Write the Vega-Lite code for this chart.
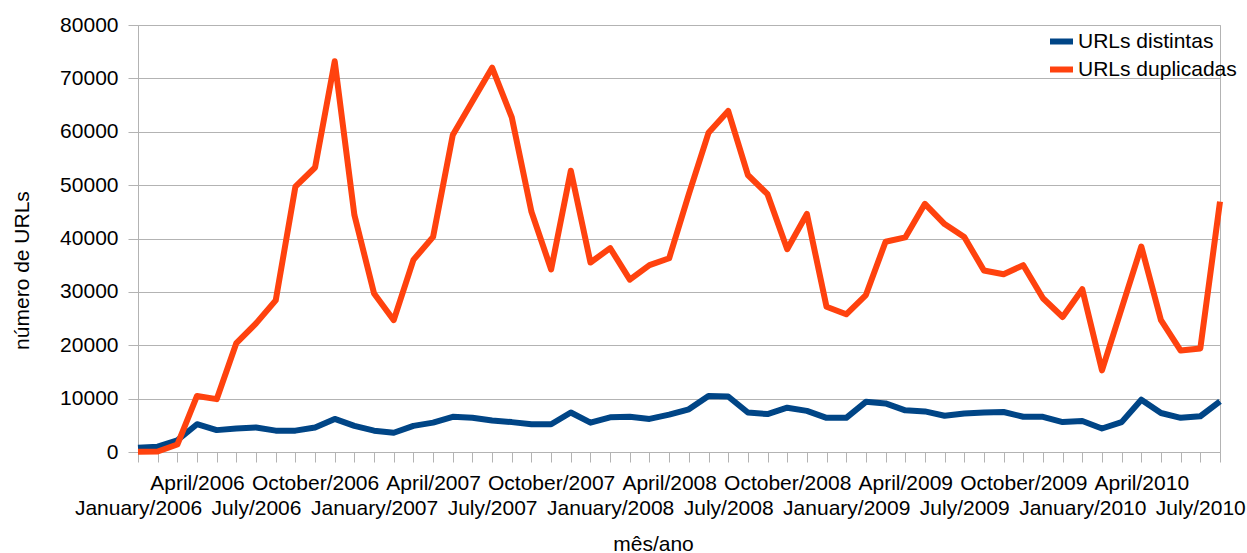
{
  "$schema": "https://vega.github.io/schema/vega-lite/v6.json",
  "autosize": {"type": "none"},
  "padding": {"left": 138, "top": 25, "right": 27, "bottom": 101},
  "width": 1082,
  "height": 427,
  "background": "white",
  "config": {
    "font": "Liberation Sans",
    "view": {"stroke": "#b3b3b3", "strokeWidth": 1},
    "axis": {
      "domainColor": "#b3b3b3",
      "tickColor": "#b3b3b3",
      "gridColor": "#b3b3b3",
      "labelColor": "black",
      "titleColor": "black",
      "labelFont": "Liberation Sans",
      "titleFont": "Liberation Sans",
      "labelFontSize": 21,
      "titleFontSize": 21,
      "titleFontWeight": "normal"
    }
  },
  "data": {
    "values": [
      {"mes": "January/2006", "serie": "URLs distintas", "valor": 800},
      {"mes": "February/2006", "serie": "URLs distintas", "valor": 1000},
      {"mes": "March/2006", "serie": "URLs distintas", "valor": 2200},
      {"mes": "April/2006", "serie": "URLs distintas", "valor": 5200},
      {"mes": "May/2006", "serie": "URLs distintas", "valor": 4100},
      {"mes": "June/2006", "serie": "URLs distintas", "valor": 4400},
      {"mes": "July/2006", "serie": "URLs distintas", "valor": 4600},
      {"mes": "August/2006", "serie": "URLs distintas", "valor": 4000},
      {"mes": "September/2006", "serie": "URLs distintas", "valor": 4000},
      {"mes": "October/2006", "serie": "URLs distintas", "valor": 4600},
      {"mes": "November/2006", "serie": "URLs distintas", "valor": 6200},
      {"mes": "December/2006", "serie": "URLs distintas", "valor": 4900},
      {"mes": "January/2007", "serie": "URLs distintas", "valor": 4000},
      {"mes": "February/2007", "serie": "URLs distintas", "valor": 3600},
      {"mes": "March/2007", "serie": "URLs distintas", "valor": 4900},
      {"mes": "April/2007", "serie": "URLs distintas", "valor": 5500},
      {"mes": "May/2007", "serie": "URLs distintas", "valor": 6600},
      {"mes": "June/2007", "serie": "URLs distintas", "valor": 6400},
      {"mes": "July/2007", "serie": "URLs distintas", "valor": 5900},
      {"mes": "August/2007", "serie": "URLs distintas", "valor": 5600},
      {"mes": "September/2007", "serie": "URLs distintas", "valor": 5200},
      {"mes": "October/2007", "serie": "URLs distintas", "valor": 5200},
      {"mes": "November/2007", "serie": "URLs distintas", "valor": 7400},
      {"mes": "December/2007", "serie": "URLs distintas", "valor": 5500},
      {"mes": "January/2008", "serie": "URLs distintas", "valor": 6500},
      {"mes": "February/2008", "serie": "URLs distintas", "valor": 6600},
      {"mes": "March/2008", "serie": "URLs distintas", "valor": 6200},
      {"mes": "April/2008", "serie": "URLs distintas", "valor": 7000},
      {"mes": "May/2008", "serie": "URLs distintas", "valor": 8000},
      {"mes": "June/2008", "serie": "URLs distintas", "valor": 10500},
      {"mes": "July/2008", "serie": "URLs distintas", "valor": 10400},
      {"mes": "August/2008", "serie": "URLs distintas", "valor": 7400},
      {"mes": "September/2008", "serie": "URLs distintas", "valor": 7100},
      {"mes": "October/2008", "serie": "URLs distintas", "valor": 8300},
      {"mes": "November/2008", "serie": "URLs distintas", "valor": 7700},
      {"mes": "December/2008", "serie": "URLs distintas", "valor": 6400},
      {"mes": "January/2009", "serie": "URLs distintas", "valor": 6400},
      {"mes": "February/2009", "serie": "URLs distintas", "valor": 9400},
      {"mes": "March/2009", "serie": "URLs distintas", "valor": 9100},
      {"mes": "April/2009", "serie": "URLs distintas", "valor": 7800},
      {"mes": "May/2009", "serie": "URLs distintas", "valor": 7600},
      {"mes": "June/2009", "serie": "URLs distintas", "valor": 6800},
      {"mes": "July/2009", "serie": "URLs distintas", "valor": 7200},
      {"mes": "August/2009", "serie": "URLs distintas", "valor": 7400},
      {"mes": "September/2009", "serie": "URLs distintas", "valor": 7500},
      {"mes": "October/2009", "serie": "URLs distintas", "valor": 6600},
      {"mes": "November/2009", "serie": "URLs distintas", "valor": 6600},
      {"mes": "December/2009", "serie": "URLs distintas", "valor": 5600},
      {"mes": "January/2010", "serie": "URLs distintas", "valor": 5800},
      {"mes": "February/2010", "serie": "URLs distintas", "valor": 4400},
      {"mes": "March/2010", "serie": "URLs distintas", "valor": 5600},
      {"mes": "April/2010", "serie": "URLs distintas", "valor": 9800},
      {"mes": "May/2010", "serie": "URLs distintas", "valor": 7300},
      {"mes": "June/2010", "serie": "URLs distintas", "valor": 6400},
      {"mes": "July/2010", "serie": "URLs distintas", "valor": 6700},
      {"mes": "August/2010", "serie": "URLs distintas", "valor": 9500},
      {"mes": "January/2006", "serie": "URLs duplicadas", "valor": 50},
      {"mes": "February/2006", "serie": "URLs duplicadas", "valor": 100},
      {"mes": "March/2006", "serie": "URLs duplicadas", "valor": 1400},
      {"mes": "April/2006", "serie": "URLs duplicadas", "valor": 10500},
      {"mes": "May/2006", "serie": "URLs duplicadas", "valor": 9900},
      {"mes": "June/2006", "serie": "URLs duplicadas", "valor": 20400},
      {"mes": "July/2006", "serie": "URLs duplicadas", "valor": 24100},
      {"mes": "August/2006", "serie": "URLs duplicadas", "valor": 28400},
      {"mes": "September/2006", "serie": "URLs duplicadas", "valor": 49700},
      {"mes": "October/2006", "serie": "URLs duplicadas", "valor": 53300},
      {"mes": "November/2006", "serie": "URLs duplicadas", "valor": 73200},
      {"mes": "December/2006", "serie": "URLs duplicadas", "valor": 44400},
      {"mes": "January/2007", "serie": "URLs duplicadas", "valor": 29700},
      {"mes": "February/2007", "serie": "URLs duplicadas", "valor": 24700},
      {"mes": "March/2007", "serie": "URLs duplicadas", "valor": 36000},
      {"mes": "April/2007", "serie": "URLs duplicadas", "valor": 40300},
      {"mes": "May/2007", "serie": "URLs duplicadas", "valor": 59400},
      {"mes": "June/2007", "serie": "URLs duplicadas", "valor": 65700},
      {"mes": "July/2007", "serie": "URLs duplicadas", "valor": 72000},
      {"mes": "August/2007", "serie": "URLs duplicadas", "valor": 62700},
      {"mes": "September/2007", "serie": "URLs duplicadas", "valor": 45000},
      {"mes": "October/2007", "serie": "URLs duplicadas", "valor": 34200},
      {"mes": "November/2007", "serie": "URLs duplicadas", "valor": 52700},
      {"mes": "December/2007", "serie": "URLs duplicadas", "valor": 35500},
      {"mes": "January/2008", "serie": "URLs duplicadas", "valor": 38200},
      {"mes": "February/2008", "serie": "URLs duplicadas", "valor": 32300},
      {"mes": "March/2008", "serie": "URLs duplicadas", "valor": 35000},
      {"mes": "April/2008", "serie": "URLs duplicadas", "valor": 36300},
      {"mes": "May/2008", "serie": "URLs duplicadas", "valor": 48300},
      {"mes": "June/2008", "serie": "URLs duplicadas", "valor": 59800},
      {"mes": "July/2008", "serie": "URLs duplicadas", "valor": 63900},
      {"mes": "August/2008", "serie": "URLs duplicadas", "valor": 51900},
      {"mes": "September/2008", "serie": "URLs duplicadas", "valor": 48300},
      {"mes": "October/2008", "serie": "URLs duplicadas", "valor": 38000},
      {"mes": "November/2008", "serie": "URLs duplicadas", "valor": 44600},
      {"mes": "December/2008", "serie": "URLs duplicadas", "valor": 27200},
      {"mes": "January/2009", "serie": "URLs duplicadas", "valor": 25800},
      {"mes": "February/2009", "serie": "URLs duplicadas", "valor": 29400},
      {"mes": "March/2009", "serie": "URLs duplicadas", "valor": 39400},
      {"mes": "April/2009", "serie": "URLs duplicadas", "valor": 40200},
      {"mes": "May/2009", "serie": "URLs duplicadas", "valor": 46500},
      {"mes": "June/2009", "serie": "URLs duplicadas", "valor": 42700},
      {"mes": "July/2009", "serie": "URLs duplicadas", "valor": 40300},
      {"mes": "August/2009", "serie": "URLs duplicadas", "valor": 34000},
      {"mes": "September/2009", "serie": "URLs duplicadas", "valor": 33300},
      {"mes": "October/2009", "serie": "URLs duplicadas", "valor": 35000},
      {"mes": "November/2009", "serie": "URLs duplicadas", "valor": 28800},
      {"mes": "December/2009", "serie": "URLs duplicadas", "valor": 25300},
      {"mes": "January/2010", "serie": "URLs duplicadas", "valor": 30500},
      {"mes": "February/2010", "serie": "URLs duplicadas", "valor": 15300},
      {"mes": "March/2010", "serie": "URLs duplicadas", "valor": 26900},
      {"mes": "April/2010", "serie": "URLs duplicadas", "valor": 38500},
      {"mes": "May/2010", "serie": "URLs duplicadas", "valor": 24700},
      {"mes": "June/2010", "serie": "URLs duplicadas", "valor": 19000},
      {"mes": "July/2010", "serie": "URLs duplicadas", "valor": 19400},
      {"mes": "August/2010", "serie": "URLs duplicadas", "valor": 46900}
    ]
  },
  "mark": {"type": "line", "strokeWidth": 6, "strokeJoin": "round", "strokeCap": "butt"},
  "encoding": {
    "x": {
      "field": "mes",
      "type": "ordinal",
      "sort": null,
      "scale": {"type": "point", "padding": 0},
      "axis": {
        "title": "mês/ano",
        "titleX": 515,
        "titleY": 92,
        "titleBaseline": "middle",
        "titleAnchor": null,
        "grid": false,
        "tickSize": 10,
        "tickWidth": 1,
        "domainWidth": 1,
        "labelAngle": 0,
        "labelAlign": "center",
        "labelBaseline": "alphabetic",
        "labelPadding": 27,
        "labelLineHeight": 25,
        "labelOverlap": false,
        "labelFlush": false,
        "labelBound": false,
        "labelExpr": "(indexof(datum.value,'April')==0 || indexof(datum.value,'October')==0) ? datum.value : ((indexof(datum.value,'January')==0 || indexof(datum.value,'July')==0) ? ['', datum.value] : '')"
      }
    },
    "y": {
      "field": "valor",
      "type": "quantitative",
      "scale": {"domain": [0, 80000], "nice": false},
      "axis": {
        "title": "número de URLs",
        "values": [0, 10000, 20000, 30000, 40000, 50000, 60000, 70000, 80000],
        "format": "d",
        "grid": true,
        "gridWidth": 1,
        "tickSize": 10,
        "domainWidth": 1,
        "labelPadding": 10,
        "labelBaseline": "middle",
        "titleX": -116,
        "titleY": 245,
        "titleAngle": -90,
        "titleAlign": "center",
        "titleBaseline": "middle",
        "titleAnchor": null
      }
    },
    "color": {
      "field": "serie",
      "type": "nominal",
      "scale": {"domain": ["URLs distintas", "URLs duplicadas"], "range": ["#004586", "#ff420e"]},
      "legend": {
        "title": null,
        "orient": "none",
        "legendX": 909,
        "legendY": 2,
        "padding": 0,
        "symbolType": "stroke",
        "symbolSize": 529,
        "symbolStrokeWidth": 6,
        "labelFontSize": 21,
        "labelFont": "Liberation Sans",
        "labelColor": "black",
        "labelOffset": 2,
        "rowPadding": 1
      }
    }
  }
}
